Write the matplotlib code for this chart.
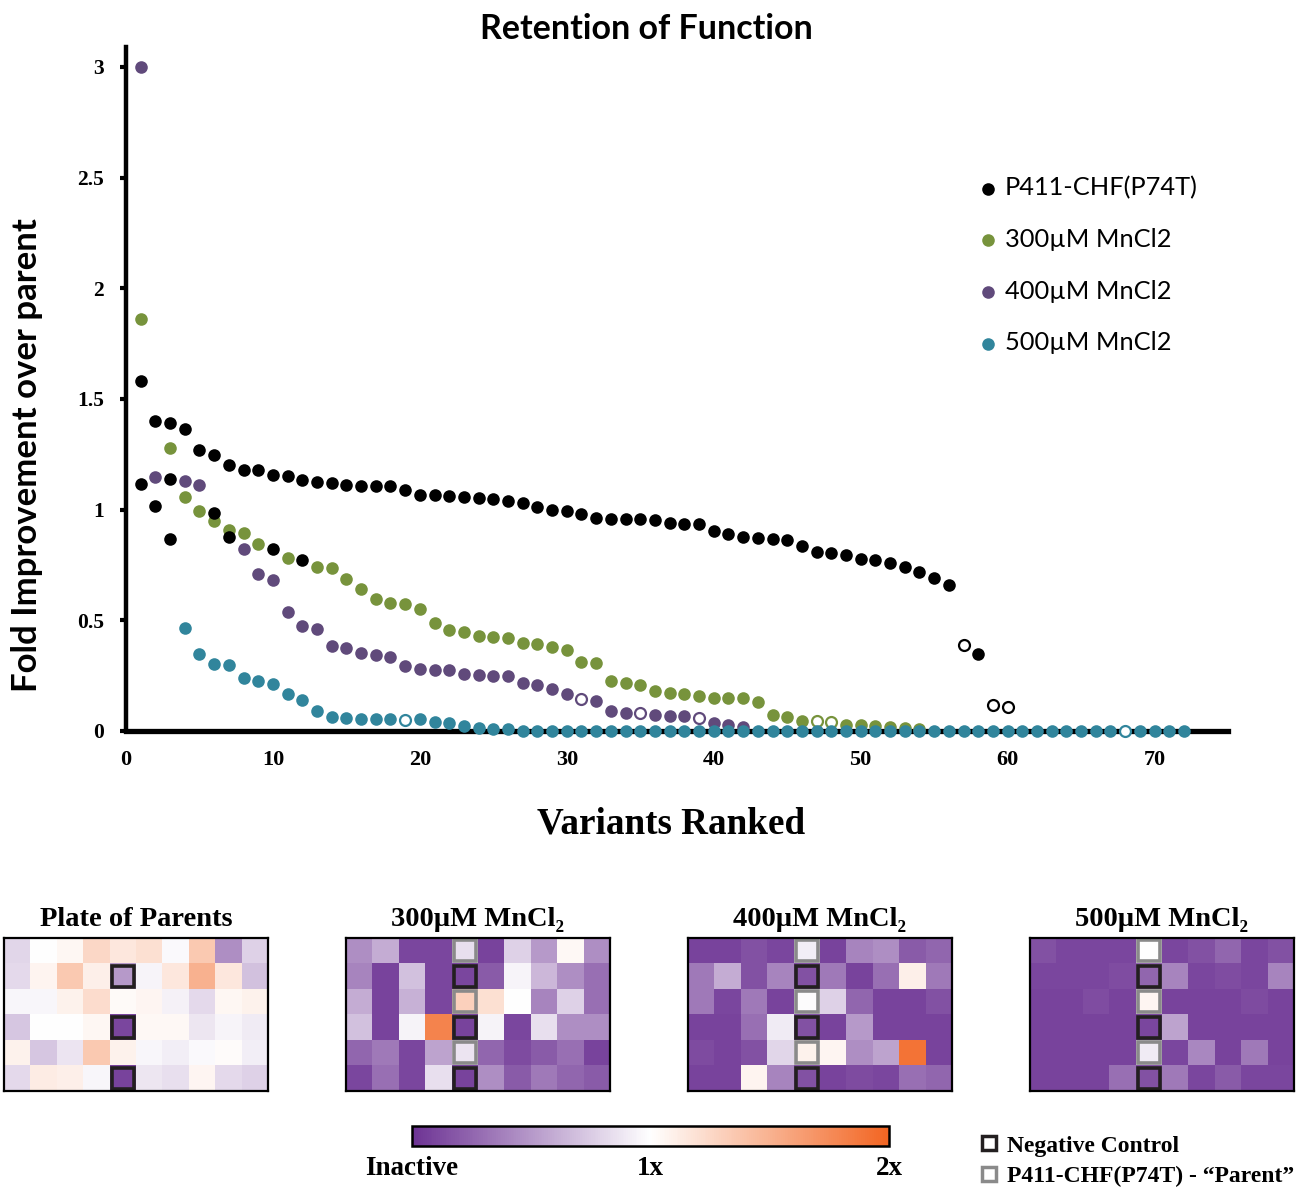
import numpy as np
import matplotlib
matplotlib.use('Agg')
import matplotlib.pyplot as plt
from matplotlib.colors import LinearSegmentedColormap, Normalize
from matplotlib.cm import ScalarMappable
from matplotlib.patches import Rectangle
from matplotlib.lines import Line2D

# ranked fold improvement over parent
p411_y = [1.58, 1.40, 1.39, 1.365, 1.27, 1.245, 1.20, 1.18, 1.18, 1.155,
          1.15, 1.135, 1.125, 1.12, 1.11, 1.107, 1.107, 1.107, 1.09, 1.067,
          1.065, 1.06, 1.056, 1.053, 1.047, 1.039, 1.03, 1.014, 1.0, 0.996,
          0.982, 0.961, 0.958, 0.958, 0.958, 0.952, 0.94, 0.937, 0.935, 0.905,
          0.889, 0.875, 0.871, 0.868, 0.863, 0.834, 0.809, 0.806, 0.795, 0.776,
          0.773, 0.757, 0.74, 0.717, 0.69, 0.66, 0.389, 0.348, 0.117, 0.11]
p411_x = list(range(1, len(p411_y) + 1))
p411_open = [57, 59, 60]

# extra black points sitting below the main P411 curve
p411b_x = [1, 2, 3, 3, 6, 7, 10, 12]
p411b_y = [1.118, 1.015, 1.137, 0.868, 0.987, 0.875, 0.822, 0.771]

mn300_x = [1, 3, 4, 5, 6, 7, 8, 9, 11, 13, 14, 15, 16, 17, 18, 19, 20, 21, 22,
           23, 24, 25, 26, 27, 28, 29, 30, 31, 32, 33, 34, 35, 36, 37, 38, 39,
           40, 41, 42, 43, 44, 45, 46, 47, 48, 49, 50, 51, 52, 53, 54]
mn300_y = [1.862, 1.279, 1.056, 0.993, 0.948, 0.908, 0.896, 0.844, 0.78, 0.741,
           0.735, 0.687, 0.64, 0.598, 0.58, 0.575, 0.553, 0.487, 0.456, 0.447,
           0.429, 0.425, 0.422, 0.399, 0.393, 0.381, 0.366, 0.313, 0.309, 0.226,
           0.215, 0.208, 0.182, 0.172, 0.167, 0.16, 0.149, 0.148, 0.148, 0.132,
           0.071, 0.063, 0.047, 0.044, 0.039, 0.027, 0.027, 0.024, 0.017, 0.012,
           0.008]
mn300_open = [47, 48]

mn400_x = [1, 2, 4, 5, 8, 9, 10, 11, 12, 13, 14, 15, 16, 17, 18, 19, 20, 21,
           22, 23, 24, 25, 26, 27, 28, 29, 30, 31, 32, 33, 34, 35, 36, 37, 38,
           39, 40, 41, 42]
mn400_y = [3.0, 1.148, 1.131, 1.113, 0.822, 0.711, 0.682, 0.538, 0.474, 0.459,
           0.384, 0.377, 0.351, 0.343, 0.336, 0.292, 0.28, 0.276, 0.276, 0.258,
           0.253, 0.25, 0.247, 0.219, 0.208, 0.188, 0.166, 0.146, 0.134, 0.092,
           0.083, 0.08, 0.074, 0.068, 0.066, 0.06, 0.035, 0.027, 0.02]
mn400_open = [31, 35, 39]

mn500_y = [0.467, 0.349, 0.304, 0.298, 0.241, 0.226, 0.211, 0.169, 0.142, 0.089,
           0.063, 0.06, 0.054, 0.054, 0.053, 0.05, 0.052, 0.039, 0.036, 0.021,
           0.014, 0.008, 0.008, 0, 0, 0, 0, 0, 0, 0,
           0, 0, 0, 0, 0, 0, 0, 0, 0, 0,
           0, 0, 0, 0, 0, 0, 0, 0, 0, 0,
           0, 0, 0, 0, 0, 0, 0, 0, 0, 0,
           0, 0, 0, 0, 0, 0, 0, 0, 0]
mn500_x = list(range(4, 4 + len(mn500_y)))
mn500_open = [19, 68]

# plate heatmaps (fold of parent, 0 = inactive, 1 = parent, 2 = 2x)
plate_parents = [
    [0.80, 1.00, 1.05, 1.25, 1.15, 1.20, 0.97, 1.35, 0.45, 0.78],
    [0.82, 1.07, 1.35, 1.10, 0.50, 0.95, 1.15, 1.50, 1.15, 0.70],
    [0.96, 0.96, 1.08, 1.22, 1.03, 1.06, 0.93, 0.82, 1.05, 1.08],
    [0.72, 1.00, 1.00, 1.05, 0.10, 1.04, 1.04, 0.88, 0.95, 0.90],
    [1.08, 0.72, 0.87, 1.35, 1.08, 0.96, 0.92, 0.97, 1.02, 0.92],
    [0.82, 1.12, 1.10, 0.96, 0.08, 0.88, 0.85, 1.06, 0.82, 0.78],
]
plate_300 = [
    [0.45, 0.60, 0.10, 0.10, 0.85, 0.08, 0.78, 0.50, 1.04, 0.45],
    [0.40, 0.08, 0.70, 0.10, 0.10, 0.20, 0.95, 0.65, 0.45, 0.30],
    [0.60, 0.08, 0.62, 0.10, 1.30, 1.20, 1.00, 0.40, 0.78, 0.30],
    [0.70, 0.08, 0.94, 1.80, 0.08, 0.94, 0.10, 0.85, 0.45, 0.45],
    [0.25, 0.35, 0.10, 0.55, 0.87, 0.25, 0.12, 0.20, 0.30, 0.08],
    [0.10, 0.30, 0.10, 0.85, 0.08, 0.45, 0.20, 0.35, 0.25, 0.20],
]
plate_400 = [
    [0.08, 0.08, 0.15, 0.10, 0.92, 0.08, 0.40, 0.45, 0.20, 0.25],
    [0.35, 0.60, 0.15, 0.40, 0.15, 0.35, 0.08, 0.30, 1.10, 0.35],
    [0.35, 0.10, 0.35, 0.08, 0.98, 0.78, 0.25, 0.08, 0.08, 0.15],
    [0.08, 0.08, 0.30, 0.90, 0.15, 0.08, 0.50, 0.08, 0.08, 0.08],
    [0.12, 0.08, 0.15, 0.80, 1.08, 1.06, 0.45, 0.55, 1.90, 0.08],
    [0.08, 0.08, 1.07, 0.40, 0.15, 0.08, 0.12, 0.10, 0.30, 0.25],
]
plate_500 = [
    [0.15, 0.10, 0.10, 0.10, 1.00, 0.10, 0.15, 0.25, 0.10, 0.15],
    [0.10, 0.10, 0.10, 0.13, 0.25, 0.40, 0.10, 0.13, 0.10, 0.40],
    [0.08, 0.08, 0.13, 0.08, 1.06, 0.08, 0.08, 0.08, 0.12, 0.08],
    [0.08, 0.08, 0.08, 0.08, 0.10, 0.55, 0.08, 0.08, 0.08, 0.08],
    [0.08, 0.08, 0.08, 0.08, 0.90, 0.10, 0.42, 0.08, 0.35, 0.08],
    [0.08, 0.08, 0.08, 0.30, 0.15, 0.35, 0.10, 0.20, 0.10, 0.10],
]
plate_titles = ['Plate of Parents', '300µM MnCl₂', '400µM MnCl₂', '500µM MnCl₂']
control_col = 4
neg_rows = [1, 3, 5]
parent_rows = [0, 2, 4]

C_BLACK = '#000000'
C_GREEN = '#77933c'
C_PURPLE = '#604a7b'
C_TEAL = '#31859c'

SANS = ['Lato', 'DejaVu Sans']
SERIF = ['Liberation Serif', 'DejaVu Serif']

W, H = 1299, 1187
fig = plt.figure(figsize=(W / 100, H / 100), dpi=100)


def fx(px):
    return px / W


def fy(py):
    return 1 - py / H


ax = fig.add_axes([fx(126), fy(731), fx(1228) - fx(126), fy(47) - fy(731)])


def plot_series(x, y, open_ranks, color, label):
    x = np.array(x)
    y = np.array(y, dtype=float)
    hollow = np.isin(x, open_ranks)
    h = ax.scatter(x[~hollow], y[~hollow], s=82, color=color, linewidths=0,
                   clip_on=False, zorder=4, label=label)
    ax.scatter(x[hollow], y[hollow], s=62, facecolor='white', edgecolor=color,
               linewidths=1.6, clip_on=False, zorder=4)
    return h


h300 = plot_series(mn300_x, mn300_y, mn300_open, C_GREEN, '300µM MnCl2')
h400 = plot_series(mn400_x, mn400_y, mn400_open, C_PURPLE, '400µM MnCl2')
h500 = plot_series(mn500_x, mn500_y, mn500_open, C_TEAL, '500µM MnCl2')
hp = plot_series(p411_x, p411_y, p411_open, C_BLACK, 'P411-CHF(P74T)')
ax.scatter(p411b_x, p411b_y, s=82, color=C_BLACK, linewidths=0, zorder=4)

ax.set_xlim(0, 75)
ax.set_ylim(0, 3.09)
for s in ['top', 'right']:
    ax.spines[s].set_visible(False)
ax.spines['left'].set_linewidth(3.2)
ax.spines['bottom'].set_linewidth(3.8)

ax.set_xticks([0, 10, 20, 30, 40, 50, 60, 70])
ax.set_yticks([0, 0.5, 1, 1.5, 2, 2.5, 3])
ax.set_yticklabels(['0', '0.5', '1', '1.5', '2', '2.5', '3'])
ax.tick_params(axis='x', length=0, pad=14)
ax.tick_params(axis='y', length=4, width=3, pad=12)
for lbl in ax.get_xticklabels():
    lbl.set_fontfamily(SERIF)
    lbl.set_fontweight('bold')
    lbl.set_fontsize(16)
for lbl in ax.get_yticklabels():
    lbl.set_fontfamily(SERIF)
    lbl.set_fontweight('bold')
    lbl.set_fontsize(15.5)

ax.set_xlabel('Variants Ranked', family=SERIF, fontweight='bold', fontsize=26.7)
ax.xaxis.set_label_coords((671 - 126) / 1102, (731 - 824) / 684)
ax.set_ylabel('Fold Improvement over parent', family=SANS, fontweight='bold',
              fontsize=25)
ax.yaxis.set_label_coords((27 - 126) / 1102, (731 - 455) / 684)
ax.yaxis.label.set_va('center')
ax.xaxis.label.set_va('center')
ax.text((646 - 126) / 1102, (731 - 29) / 684, 'Retention of Function',
        transform=ax.transAxes, ha='center', va='center', family=SANS,
        fontweight='bold', fontsize=24.5)

ax.legend(handles=[hp, h300, h400, h500], loc='upper left',
          bbox_to_anchor=(fx(978), fy(176)), bbox_transform=fig.transFigure,
          frameon=False, borderpad=0, borderaxespad=0, handlelength=0.75,
          handletextpad=0.3, labelspacing=1.13, scatterpoints=1,
          prop={'family': SANS, 'size': 18.3})

# heatmap panels
cmap = LinearSegmentedColormap.from_list(
    'inact', ['#6d3394', '#ffffff', '#f26522'])
norm = Normalize(vmin=0, vmax=2)
plates = [plate_parents, plate_300, plate_400, plate_500]
lefts = [4, 346, 688, 1030]
for i, (plate, title) in enumerate(zip(plates, plate_titles)):
    pax = fig.add_axes([fx(lefts[i]), fy(1091), fx(264), fy(938) - fy(1091)])
    pax.imshow(np.array(plate), cmap=cmap, norm=norm, aspect='auto',
               interpolation='nearest')
    pax.set_xticks([])
    pax.set_yticks([])
    for s in pax.spines.values():
        s.set_linewidth(1.6)
    inset = 0.09
    boxes = [(r, '#231f20') for r in neg_rows]
    if i > 0:
        boxes += [(r, '#8a8a8a') for r in parent_rows]
    for r, col in boxes:
        pax.add_patch(Rectangle((control_col - 0.5 + inset, r - 0.5 + inset),
                                1 - 2 * inset, 1 - 2 * inset, fill=False,
                                edgecolor=col, linewidth=2.6))
    fig.text(fx(lefts[i] + 132), fy(919), title, ha='center', va='center',
             family=SERIF, fontweight='bold', fontsize=20.5)

cax = fig.add_axes([fx(412), fy(1146), fx(889) - fx(412), fy(1126) - fy(1146)])
cb = fig.colorbar(ScalarMappable(norm=norm, cmap=cmap), cax=cax,
                  orientation='horizontal')
cb.outline.set_linewidth(1.8)
cb.set_ticks([0, 1, 2])
cb.set_ticklabels(['Inactive', '1x', '2x'])
cax.tick_params(length=0, pad=7)
for lbl in cax.get_xticklabels():
    lbl.set_fontfamily(SERIF)
    lbl.set_fontweight('bold')
    lbl.set_fontsize(19.5)

key_handles = [
    Line2D([], [], marker='s', linestyle='none', markersize=10,
           markerfacecolor='white', markeredgecolor='#231f20',
           markeredgewidth=2.5),
    Line2D([], [], marker='s', linestyle='none', markersize=10,
           markerfacecolor='white', markeredgecolor='#8a8a8a',
           markeredgewidth=2.5),
]
fig.legend(key_handles, ['Negative Control', 'P411-CHF(P74T) - “Parent”'],
           loc='upper left', bbox_to_anchor=(fx(981), fy(1135)),
           frameon=False, borderpad=0, borderaxespad=0, handlelength=0.7,
           handletextpad=0.4, labelspacing=0.4,
           prop={'family': SERIF, 'weight': 'bold', 'size': 17})

fig.savefig('out.png', dpi=100, facecolor='white')
